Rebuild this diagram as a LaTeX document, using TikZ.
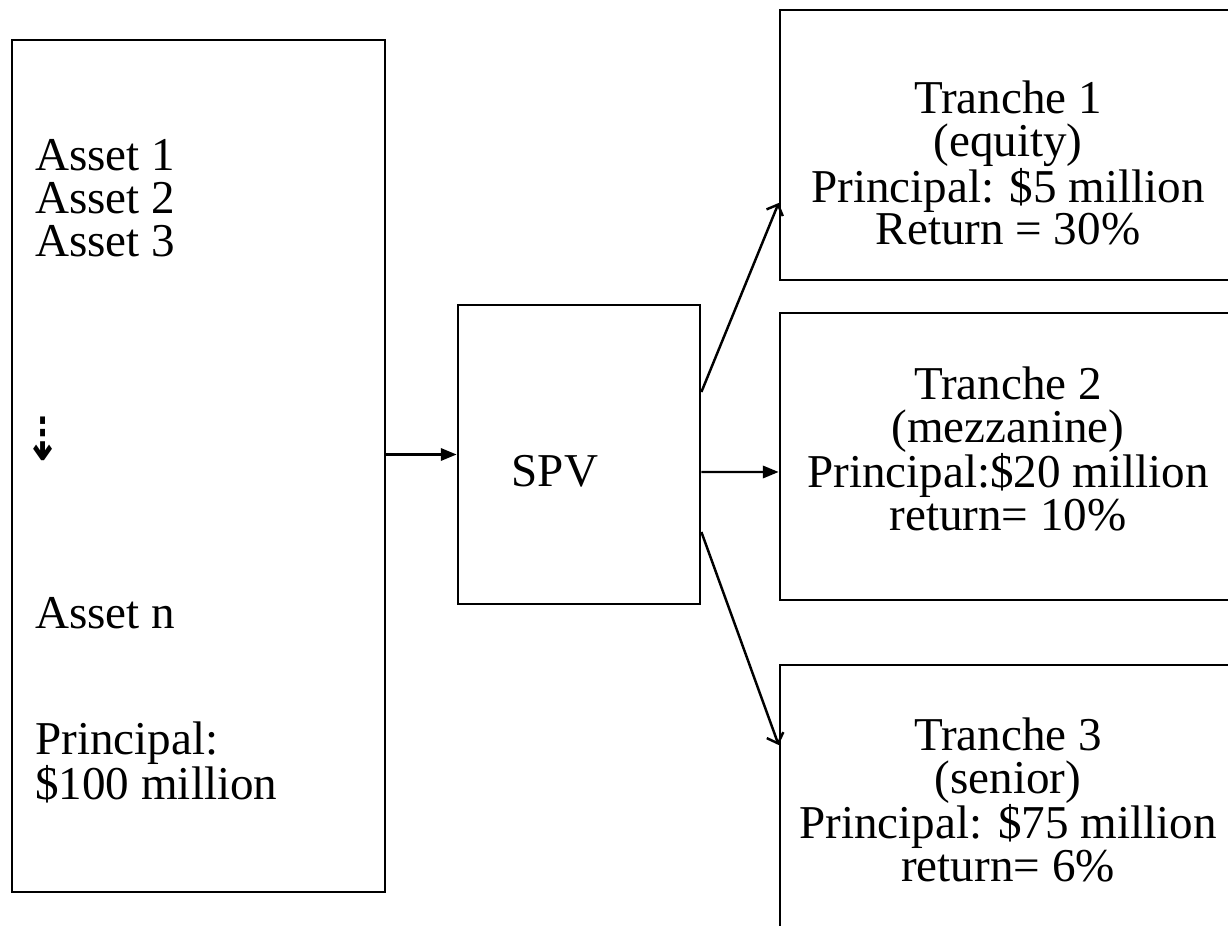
\documentclass[tikz,border=0pt]{standalone}
\usepackage{fontspec}
\setmainfont{Liberation Serif}
\newfontfamily\arrowfont{DejaVu Sans}[BoldFont=* Bold]
\usetikzlibrary{arrows.meta, positioning}
\tikzset{
  box/.style={draw, rectangle, line width=1.6pt, inner sep=0pt},
  txt/.style={font=\fontsize{26.8}{24.4}\selectfont, inner sep=0pt, align=center},
  flow/.style={-{Triangle[length=9pt, width=7pt]}, line width=1.4pt},
  fan/.style={-{Straight Barb[length=5pt, width=10pt]}, line width=1.4pt},
}

\begin{document}
\begin{tikzpicture}[x=0.02cm, y=-0.02cm]
\useasboundingbox (0,0) rectangle (1228,926);
\clip (0,0) rectangle (1228,926);
% boxes
\node[box, minimum width=7.46cm, minimum height=17.04cm] (assets) at (198.5,466) {};
\node[box, minimum width=4.84cm, minimum height=5.98cm] (spv) at (579,454.5) {};
\node[box, minimum width=9.12cm, minimum height=5.4cm] (t1) at (1008,145) {};
\node[box, minimum width=9.12cm, minimum height=5.74cm] (t2) at (1008,456.5) {};
\node[box, minimum width=9.12cm, minimum height=6.7cm] (t3) at (1008,832.5) {};
% pool of assets
\node[txt, align=left, anchor=north west] (alist) at (35,139) {Asset 1\\Asset 2\\Asset 3};
\node[inner sep=0pt, font=\arrowfont\bfseries\fontsize{34}{34}\selectfont] (dots) at (43,439) {\scalebox{0.7}[1]{⇣}};
\node[txt, anchor=base west] (an) at (35,628) {Asset n};
\node[txt, align=left, anchor=north west] (pool) at (35,721) {Principal:\\\$100 million};
\node[txt, anchor=base] (spvtext) at (555,486) {SPV};
% tranches
\node[txt] (t1text) at (1008,163) {Tranche 1\\(equity)\\Principal: \$5 million\\Return = 30\%};
\node[txt] (t2text) at (1008,449) {Tranche 2\\(mezzanine)\\Principal:\$20 million\\return= 10\%};
\node[txt] (t3text) at (1008,800) {Tranche 3\\(senior)\\Principal: \$75 million\\return= 6\%};
% connectors
\draw[flow] (assets.east |- spv.west) -- (spv.west);
\draw[flow] ([yshift=-0.35cm]spv.east) -- ([yshift=-0.31cm]t2.west);
\draw[fan] ([yshift=1.25cm]spv.east) -- ([yshift=-1.16cm]t1.west);
\draw[fan] ([yshift=-1.55cm]spv.east) -- ([yshift=1.75cm]t3.west);
\end{tikzpicture}
\end{document}
